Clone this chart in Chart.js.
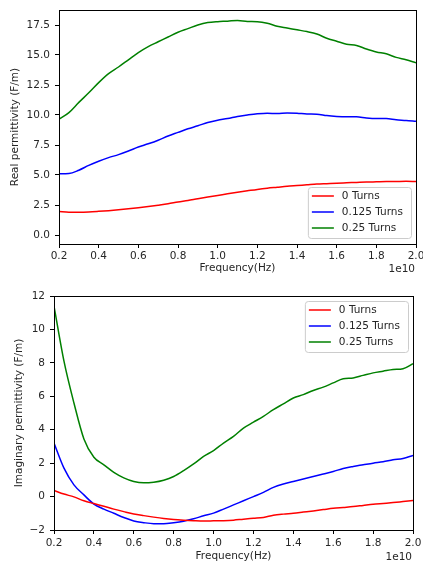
<!DOCTYPE html>
<html>
<head>
<meta charset="utf-8">
<title>Permittivity vs frequency</title>
<script src="https://cdn.jsdelivr.net/npm/chart.js@4.4.1/dist/chart.umd.min.js"></script>
<style>
  html, body { margin: 0; padding: 0; background: #fff; }
  canvas { position: absolute; left: 0; }
  #realChart { top: 0; }
  #imagChart { top: 282px; }
</style>
</head>
<body>
<canvas id="realChart" width="423" height="282"></canvas>
<canvas id="imagChart" width="423" height="282"></canvas>
<script>
// frequency in units of 1e10 Hz
const freq = [0.20, 0.25, 0.30, 0.35, 0.40, 0.45, 0.50, 0.55, 0.60, 0.65, 0.70, 0.75, 0.80,
  0.85, 0.90, 0.95, 1.00, 1.05, 1.10, 1.15, 1.20, 1.25, 1.30, 1.35, 1.40, 1.45, 1.50,
  1.55, 1.60, 1.65, 1.70, 1.75, 1.80, 1.85, 1.90, 1.95, 2.00];

// real permittivity (F/m)
const real0 = [1.95, 1.90, 1.90, 1.92, 1.97, 2.03, 2.10, 2.18, 2.27, 2.37, 2.48, 2.60, 2.75,
  2.88, 3.03, 3.17, 3.30, 3.43, 3.56, 3.68, 3.80, 3.90, 3.98, 4.06, 4.12, 4.18, 4.24,
  4.28, 4.32, 4.35, 4.38, 4.41, 4.43, 4.45, 4.46, 4.47, 4.46];
const real125 = [5.10, 5.12, 5.40, 5.80, 6.15, 6.45, 6.70, 7.00, 7.33, 7.60, 7.90, 8.25, 8.55,
  8.85, 9.10, 9.38, 9.57, 9.70, 9.88, 10.00, 10.10, 10.15, 10.12, 10.17, 10.15, 10.08, 10.07,
  9.95, 9.88, 9.85, 9.85, 9.75, 9.70, 9.70, 9.60, 9.55, 9.47];
const real25 = [9.65, 10.20, 11.05, 11.85, 12.70, 13.45, 14.00, 14.60, 15.20, 15.70, 16.10, 16.50, 16.90,
  17.20, 17.50, 17.70, 17.78, 17.82, 17.88, 17.80, 17.78, 17.65, 17.40, 17.25, 17.10, 16.95, 16.75,
  16.40, 16.15, 15.90, 15.80, 15.50, 15.25, 15.10, 14.80, 14.60, 14.35];

// imaginary permittivity (F/m)
const imag0 = [0.36, 0.15, -0.02, -0.25, -0.42, -0.58, -0.75, -0.90, -1.04, -1.14, -1.23, -1.31, -1.37,
  -1.41, -1.44, -1.46, -1.45, -1.44, -1.41, -1.35, -1.30, -1.25, -1.12, -1.05, -1.00, -0.93, -0.86,
  -0.78, -0.70, -0.65, -0.60, -0.53, -0.46, -0.41, -0.36, -0.30, -0.24];
const imag125 = [3.20, 1.70, 0.70, 0.10, -0.45, -0.75, -1.00, -1.25, -1.46, -1.56, -1.62, -1.62, -1.56,
  -1.47, -1.33, -1.15, -0.99, -0.75, -0.50, -0.25, 0.00, 0.25, 0.55, 0.75, 0.90, 1.05, 1.20,
  1.35, 1.50, 1.68, 1.80, 1.90, 2.00, 2.08, 2.20, 2.28, 2.46];
const imag25 = [11.40, 8.10, 5.60, 3.45, 2.35, 1.90, 1.45, 1.12, 0.90, 0.82, 0.86, 0.98, 1.20,
  1.55, 1.95, 2.40, 2.75, 3.20, 3.60, 4.10, 4.45, 4.80, 5.20, 5.55, 5.90, 6.10, 6.35,
  6.55, 6.80, 7.05, 7.10, 7.25, 7.40, 7.50, 7.60, 7.65, 7.95];

const seriesLabels = ['0 Turns', '0.125 Turns', '0.25 Turns'];
const freqTicks = [0.2, 0.4, 0.6, 0.8, 1.0, 1.2, 1.4, 1.6, 1.8, 2.0];
const realTicks = [0, 2.5, 5, 7.5, 10, 12.5, 15, 17.5];
const imagTicks = [-2, 0, 2, 4, 6, 8, 10, 12];

const FONT = { family: 'DejaVu Sans', size: 10.5 };
const TEXT = '#262626';
const COLORS = ['#ff0000', '#0000ff', '#008000'];

function makeDatasets(series) {
  return series.map((vals, i) => ({
    label: seriesLabels[i],
    data: freq.map((f, j) => ({ x: f, y: vals[j] })),
    borderColor: COLORS[i],
    backgroundColor: COLORS[i],
    borderWidth: 1.5,
    pointRadius: 0,
    cubicInterpolationMode: 'monotone',
    fill: false
  }));
}

// axes box on all four sides
const frame = {
  id: 'frame',
  afterDatasetsDraw(chart) {
    const { ctx, chartArea: a } = chart;
    ctx.save();
    ctx.strokeStyle = '#000';
    ctx.lineWidth = 1;
    ctx.strokeRect(Math.round(a.left) + 0.5, Math.round(a.top) + 0.5,
      Math.round(a.right - a.left), Math.round(a.bottom - a.top));
    ctx.restore();
  }
};

// boxed legend inside the axes + the 1e10 offset text
const innerLegend = {
  id: 'innerLegend',
  afterDraw(chart, args, opts) {
    const { ctx, chartArea: a } = chart;
    ctx.save();
    ctx.font = FONT.size + 'px ' + FONT.family;
    const sets = chart.data.datasets;
    const textW = Math.max(...sets.map(d => ctx.measureText(d.label).width));
    const w = textW + 42, h = 51;
    const x = a.right - 5 - w;
    const y = opts.corner === 'lower' ? a.bottom - 6 - h : a.top + 5;
    ctx.beginPath();
    ctx.roundRect(x + 0.5, y + 0.5, w, h, 3);
    ctx.fillStyle = 'rgba(255,255,255,0.8)';
    ctx.fill();
    ctx.strokeStyle = '#cccccc';
    ctx.lineWidth = 1;
    ctx.stroke();
    sets.forEach((d, i) => {
      const ry = y + 9 + i * 16;
      ctx.beginPath();
      ctx.moveTo(x + 4, ry);
      ctx.lineTo(x + 26, ry);
      ctx.strokeStyle = d.borderColor;
      ctx.lineWidth = 1.5;
      ctx.stroke();
      ctx.fillStyle = TEXT;
      ctx.textBaseline = 'middle';
      ctx.textAlign = 'left';
      ctx.fillText(d.label, x + 34, ry);
    });
    ctx.textAlign = 'right';
    ctx.textBaseline = 'middle';
    ctx.fillText('1e10', a.right - 1, a.bottom + opts.offsetY);
    ctx.restore();
  }
};

function makeChart(id, series, yTicks, yMin, yMax, yTitle, cfg) {
  return new Chart(document.getElementById(id), {
    type: 'line',
    data: { datasets: makeDatasets(series) },
    plugins: [frame, innerLegend],
    options: {
      responsive: false,
      animation: false,
      layout: { padding: cfg.padding },
      plugins: {
        legend: { display: false },
        tooltip: { enabled: false },
        innerLegend: { corner: cfg.corner, offsetY: cfg.offsetY }
      },
      scales: {
        x: {
          type: 'linear',
          min: 0.2,
          max: 2.0,
          afterBuildTicks: s => { s.ticks = freqTicks.map(v => ({ value: v })); },
          afterFit: s => { s.height = cfg.xHeight; s.paddingLeft = 0; s.paddingRight = 0; },
          ticks: { font: FONT, color: TEXT, padding: cfg.xTickPad, maxRotation: 0, autoSkip: false,
            callback: v => v.toFixed(1) },
          grid: { drawOnChartArea: false, tickLength: 4, tickColor: '#000' },
          border: { display: false },
          title: { display: true, text: 'Frequency(Hz)', font: FONT, color: TEXT,
            padding: { top: 0, bottom: cfg.xTitlePad } }
        },
        y: {
          min: yMin,
          max: yMax,
          afterBuildTicks: s => { s.ticks = yTicks.map(v => ({ value: v })); },
          afterFit: s => { s.width = cfg.yWidth; s.paddingTop = 0; s.paddingBottom = 0; },
          ticks: { font: FONT, color: TEXT, padding: 5, autoSkip: false,
            callback: v => cfg.yFmt(v) },
          grid: { drawOnChartArea: false, tickLength: 4, tickColor: '#000' },
          border: { display: false },
          title: { display: true, text: yTitle, font: FONT, color: TEXT,
            padding: { top: cfg.yTitlePad, bottom: 0 } }
        }
      }
    }
  });
}

makeChart('realChart', [real0, real125, real25], realTicks, -0.75, 18.75, 'Real permittivity (F/m)', {
  padding: { left: 0, top: 10, right: 7, bottom: 0 },
  yWidth: 59, xHeight: 38, xTickPad: 2, xTitlePad: 7, yTitlePad: 9,
  corner: 'lower', offsetY: 25, yFmt: v => v.toFixed(1)
});

makeChart('imagChart', [imag0, imag125, imag25], imagTicks, -2, 12, 'Imaginary permittivity (F/m)', {
  padding: { left: 0, top: 14, right: 10, bottom: 0 },
  yWidth: 54, xHeight: 34, xTickPad: 3, xTitlePad: 1, yTitlePad: 13,
  corner: 'upper', offsetY: 27, yFmt: v => String(v).replace('-', '\u2212')
});
</script>
</body>
</html>
